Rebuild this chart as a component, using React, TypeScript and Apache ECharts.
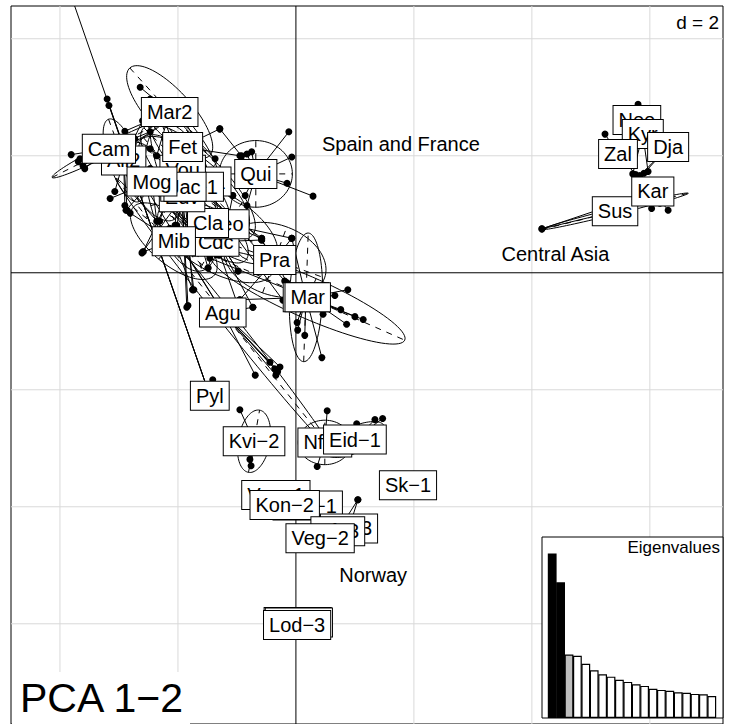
import React, { useEffect, useRef } from 'react';
import * as echarts from 'echarts';

// Population labels in drawing order (later boxes sit on top of earlier ones)
const populations = [
  'Pyl', 'Agu', 'Mor', 'Mar', 'Pra', 'Sk−1', 'Kvi−2', 'Nf−1', 'Eid−1', 'Veg−1', 'Kon−1', 'Kon−2',
  'Sk−3', 'Nf−3', 'Veg−2', 'Lod−1', 'Lod−2', 'Lod−3',
  'Nee', 'Kyr', 'Dja', 'Zal', 'Sus', 'Kar',
  'Cdc', 'Leo', 'Cla', 'Mib', 'Edv', 'Ura−1', 'Ast−1', 'Vou', 'Ali2', 'Jac', 'Mog', 'Cam', 'Fet', 'Mar2', 'Qui',
];

// Class centroids on PC1 / PC2
const centroidX = [
  -1.46, -1.24, 0.17, 0.20, -0.36, 1.90, -0.71, 0.49, 1.00, -0.34, 0.20, -0.19,
  0.90, 0.71, 0.41, 0.03, 0.05, 0.02,
  5.78, 5.88, 6.31, 5.46, 5.41, 6.05,
  -1.36, -1.17, -1.49, -2.07, -1.93, -1.66, -1.76, -1.92, -2.92, -1.88, -2.44, -3.17, -1.92, -2.14, -0.68,
];
const centroidY = [
  -2.10, -0.68, -0.42, -0.42, 0.22, -3.63, -2.88, -2.90, -2.85, -3.80, -3.98, -3.97,
  -4.37, -4.42, -4.54, -5.97, -5.98, -6.02,
  2.61, 2.37, 2.15, 2.03, 1.05, 1.39,
  0.53, 0.83, 0.85, 0.54, 1.29, 1.56, 1.47, 1.76, 1.92, 1.47, 1.56, 2.12, 2.15, 2.75, 1.69,
];

// Individual scores: [population, PC1, PC2]
const individuals: [string, number, number][] = [
  ['Pyl', -3.20, 2.97], ['Pyl', -3.17, 2.86], ['Pyl', -1.41, -1.83], ['Pyl', -6.0, 11.1],
  ['Cam', -3.81, 2.02], ['Cam', -3.66, 1.95], ['Cam', -3.69, 1.90], ['Cam', -3.61, 1.83], ['Cam', -3.58, 1.78],
  ['Cam', -2.73, 2.29], ['Cam', -2.47, 2.41],
  ['Ali2', -3.07, 1.39], ['Ali2', -2.90, 1.15], ['Ali2', -2.86, 1.07], ['Ali2', -2.60, 2.60],
  ['Mar2', -2.90, 2.42], ['Mar2', -2.36, 2.00], ['Mar2', -2.64, 3.17], ['Mar2', -2.47, 2.97], ['Mar2', -1.63, 2.29], ['Mar2', -1.37, 1.95],
  ['Fet', -1.29, 2.46], ['Fet', -2.31, 0.88], ['Fet', -2.05, 0.81], ['Fet', -0.95, 2.00],
  ['Vou', -1.75, -0.29], ['Vou', -2.59, 0.36], ['Vou', -1.63, 2.12], ['Vou', -2.17, 1.61],
  ['Mog', -2.36, 0.88], ['Mog', -2.88, 1.07], ['Mog', -3.15, 1.27], ['Mog', -2.14, 1.95],
  ['Jac', -1.49, 0.08], ['Jac', -2.02, 0.81], ['Jac', -2.22, 2.29], ['Jac', -0.98, 0.03],
  ['Ast−1', -1.34, 0.31], ['Ast−1', -0.58, 0.59], ['Ast−1', -2.47, 2.12],
  ['Ura−1', -0.19, -0.14], ['Ura−1', -1.07, 1.32], ['Ura−1', -1.97, 1.95],
  ['Edv', -1.73, -0.29], ['Edv', -2.61, 0.34], ['Edv', -1.85, -0.59], ['Edv', -1.83, -0.56], ['Edv', -2.47, 1.78],
  ['Qui', -1.29, 2.46], ['Qui', -0.12, 2.41], ['Qui', -0.07, 1.98], ['Qui', 0.29, 1.31], ['Qui', -0.15, 1.53],
  ['Qui', -0.75, 2.07], ['Qui', -0.83, 2.03], ['Qui', -0.92, 2.00], ['Qui', -0.86, 1.32], ['Qui', -0.83, 1.15],
  ['Cla', -0.98, 0.03], ['Cla', -0.73, -0.59], ['Cla', -2.31, 1.44], ['Cla', -1.90, 1.10],
  ['Leo', -0.58, 0.59], ['Leo', -0.07, 0.59], ['Leo', -0.22, -0.47], ['Leo', -1.63, 1.27], ['Leo', -1.07, 1.32],
  ['Mib', -2.59, 0.36], ['Mib', -1.75, -0.29], ['Mib', -2.81, 1.02], ['Mib', -1.30, 0.30],
  ['Cdc', -1.49, 0.08], ['Cdc', -0.58, 0.56], ['Cdc', -1.00, -0.51], ['Cdc', -1.80, 0.76],
  ['Pra', -0.07, 0.59], ['Pra', -0.15, -0.17], ['Pra', -0.95, -0.46], ['Pra', -0.58, 0.56],
  ['Mar', 0.88, -0.29], ['Mar', 0.66, -0.39], ['Mar', 0.76, -0.63], ['Mar', 1.00, -0.75], ['Mar', 1.14, -0.80],
  ['Mar', 0.86, -0.88], ['Mar', 0.46, -0.71], ['Mar', -0.95, -0.46], ['Mar', -1.46, 0.25],
  ['Mor', 0.02, -0.85], ['Mor', 0.03, -0.98], ['Mor', 0.15, -1.07], ['Mor', 0.44, -1.45], ['Mor', -0.07, 0.59],
  ['Agu', -0.44, -1.53], ['Agu', -0.36, -1.64], ['Agu', -0.31, -1.69], ['Agu', -0.27, -1.61], ['Agu', -0.34, -1.75],
  ['Agu', -0.69, -1.75], ['Agu', -0.73, -0.59], ['Agu', -2.64, 1.61], ['Agu', -2.14, 0.76],
  ['Kvi−2', -0.95, -2.34], ['Kvi−2', -0.78, -3.19], ['Kvi−2', -0.76, -3.30],
  ['Nf−1', 0.53, -2.36], ['Nf−1', 0.36, -3.31],
  ['Eid−1', 1.03, -2.58], ['Eid−1', 1.34, -2.51], ['Eid−1', 1.47, -2.49],
  ['Sk−3', 1.05, -3.88], ['Nf−3', 1.05, -3.88],
  ['Nee', 5.80, 2.88],
  ['Kyr', 5.71, 1.69], ['Kyr', 5.97, 1.73],
  ['Dja', 5.83, 1.66], ['Dja', 5.90, 1.70],
  ['Zal', 5.24, 2.37], ['Zal', 5.76, 1.68],
  ['Kar', 6.03, 1.10], ['Kar', 6.31, 1.07], ['Kar', 6.17, 1.19], ['Kar', 4.17, 0.75],
  ['Sus', 4.17, 0.75],
];

// Inertia ellipses: [population, semi-major, semi-minor, angle in degrees]
const ellipseShapes: [string, number, number, number][] = [
  ['Cam', 1.08, 0.10, 27], ['Mar2', 1.01, 0.37, -48], ['Ali2', 0.75, 0.25, -70], ['Fet', 1.0, 0.35, -55],
  ['Vou', 1.2, 0.40, -70], ['Mog', 0.75, 0.35, -60], ['Jac', 1.1, 0.45, -50], ['Ast−1', 1.2, 0.50, -40],
  ['Ura−1', 1.3, 0.45, -45], ['Edv', 1.3, 0.55, -75], ['Qui', 0.62, 0.57, 0], ['Cla', 0.9, 0.35, -45],
  ['Leo', 1.0, 0.45, -35], ['Mib', 0.9, 0.40, -40], ['Cdc', 1.1, 0.50, -30], ['Pra', 0.9, 0.60, -20],
  ['Mar', 1.8, 0.35, -24], ['Mor', 1.1, 0.28, 88], ['Agu', 2.92, 0.12, -51.7], ['Kvi−2', 0.54, 0.27, 80],
  ['Nf−1', 0.45, 0.38, 0], ['Eid−1', 0.55, 0.22, 25], ['Sus', 1.28, 0.05, 14], ['Kar', 0.22, 0.08, -50],
];

const eigenvalues = [4.10, 3.38, 1.58, 1.55, 1.35, 1.19, 1.09, 1.03, 0.95, 0.90, 0.84, 0.80, 0.73, 0.70, 0.68, 0.64, 0.63, 0.60, 0.59, 0.55];

const gridX = [-4, -2, 2, 4, 6];
const gridY = [4, 2, -2, -4, -6];

const regionNames = ['Spain and France', 'Central Asia', 'Norway'];
const regionX = [1.78, 4.40, 1.31];
const regionY = [2.20, 0.32, -5.17];

const X_MIN = -4.83;
const X_MAX = 7.24;
const Y_MAX = 4.56;
const Y_MIN = -7.713;

const FONT = '"Liberation Sans", Arial, Helvetica, sans-serif';

export default function App() {
  const ref = useRef<HTMLDivElement>(null);

  useEffect(() => {
    const chart = echarts.init(ref.current!, null, { renderer: 'svg' });
    const idx = (p: string) => populations.indexOf(p);

    const starData = individuals.map(([p, x, y]) => {
      const i = idx(p);
      return [centroidX[i], centroidY[i], x, y];
    });
    const ellipseData = ellipseShapes.map(([p, a, b, ang]) => {
      const i = idx(p);
      return [centroidX[i], centroidY[i], a, b, ang];
    });
    const labelData = populations.map((_, i) => [centroidX[i], centroidY[i], i]);
    const regionData = regionNames.map((_, i) => [regionX[i], regionY[i], i]);

    const lineEl = (a: number[], b: number[], style: any) => ({
      type: 'line',
      shape: { x1: a[0], y1: a[1], x2: b[0], y2: b[1] },
      style,
    });

    chart.setOption({
      animation: false,
      grid: [
        { left: 11, top: 6, width: 712, height: 724, show: true, borderColor: '#000', borderWidth: 1, backgroundColor: 'transparent' },
        { left: 548, top: 537, width: 168, height: 181 },
      ],
      xAxis: [
        { type: 'value', gridIndex: 0, min: X_MIN, max: X_MAX, show: false },
        { type: 'category', gridIndex: 1, data: eigenvalues.map((_, i) => String(i + 1)), show: false },
      ],
      yAxis: [
        { type: 'value', gridIndex: 0, min: Y_MIN, max: Y_MAX, show: false },
        { type: 'value', gridIndex: 1, min: 0, max: 4.51, show: false },
      ],
      graphic: [
        { type: 'rect', z: 50, shape: { x: 542, y: 537, width: 181, height: 181 }, style: { fill: '#fff', stroke: '#000', lineWidth: 1 } },
        { type: 'text', z: 60, x: 720, y: 547, style: { text: 'Eigenvalues', font: `17px ${FONT}`, fill: '#000', align: 'right', verticalAlign: 'middle' } },
        { type: 'rect', z: 50, shape: { x: 12, y: 672, width: 178, height: 60 }, style: { fill: '#fff', lineWidth: 0 } },
        { type: 'text', z: 60, x: 20, y: 698, style: { text: 'PCA 1−2', font: `41px ${FONT}`, fill: '#000', align: 'left', verticalAlign: 'middle' } },
        { type: 'rect', z: 50, shape: { x: 668, y: 7, width: 54, height: 24 }, style: { fill: '#fff', lineWidth: 0 } },
        { type: 'text', z: 60, x: 719, y: 22, style: { text: 'd = 2', font: `19px ${FONT}`, fill: '#000', align: 'right', verticalAlign: 'middle' } },
      ],
      series: [
        // light grid
        {
          type: 'custom', xAxisIndex: 0, yAxisIndex: 0, z: 1, silent: true,
          data: gridX.map((v) => [v, 0]),
          renderItem: (_p: any, api: any) =>
            lineEl(api.coord([api.value(0), Y_MIN]), api.coord([api.value(0), Y_MAX]), { stroke: '#d9d9d9', lineWidth: 1 }),
        },
        {
          type: 'custom', xAxisIndex: 0, yAxisIndex: 0, z: 1, silent: true,
          data: gridY.map((v) => [0, v]),
          renderItem: (_p: any, api: any) =>
            lineEl(api.coord([X_MIN, api.value(1)]), api.coord([X_MAX, api.value(1)]), { stroke: '#d9d9d9', lineWidth: 1 }),
        },
        // axes through the origin
        {
          type: 'custom', xAxisIndex: 0, yAxisIndex: 0, z: 2, silent: true,
          data: [[0, 0]],
          renderItem: (_p: any, api: any) => ({
            type: 'group',
            children: [
              lineEl(api.coord([0, Y_MIN]), api.coord([0, Y_MAX]), { stroke: '#000', lineWidth: 1 }),
              lineEl(api.coord([X_MIN, 0]), api.coord([X_MAX, 0]), { stroke: '#000', lineWidth: 1 }),
            ],
          }),
        },
        // ellipses with dashed axes
        {
          type: 'custom', xAxisIndex: 0, yAxisIndex: 0, z: 3, silent: true, clip: true,
          data: ellipseData,
          renderItem: (_p: any, api: any) => {
            const cx = api.value(0), cy = api.value(1), a = api.value(2), b = api.value(3);
            const t0 = (api.value(4) * Math.PI) / 180;
            const c = Math.cos(t0), s = Math.sin(t0);
            const pts: number[][] = [];
            for (let k = 0; k <= 90; k++) {
              const t = (k / 90) * Math.PI * 2;
              const u = a * Math.cos(t), v = b * Math.sin(t);
              pts.push(api.coord([cx + u * c - v * s, cy + u * s + v * c]));
            }
            const dash = { stroke: '#000', lineWidth: 1, lineDash: [6, 6] };
            return {
              type: 'group',
              children: [
                { type: 'polyline', shape: { points: pts }, style: { stroke: '#000', fill: 'none', lineWidth: 1 } },
                lineEl(api.coord([cx - a * c, cy - a * s]), api.coord([cx + a * c, cy + a * s]), dash),
                lineEl(api.coord([cx + b * s, cy - b * c]), api.coord([cx - b * s, cy + b * c]), dash),
              ],
            };
          },
        },
        // stars: centroid to each individual
        {
          type: 'custom', xAxisIndex: 0, yAxisIndex: 0, z: 4, silent: true, clip: true,
          data: starData,
          renderItem: (_p: any, api: any) =>
            lineEl(api.coord([api.value(0), api.value(1)]), api.coord([api.value(2), api.value(3)]), { stroke: '#000', lineWidth: 1 }),
        },
        // individuals
        {
          type: 'scatter', xAxisIndex: 0, yAxisIndex: 0, z: 5, silent: true,
          symbol: 'circle', symbolSize: 7,
          itemStyle: { color: '#000', opacity: 1 },
          data: individuals.map(([, x, y]) => [x, y]),
        },
        // population labels
        {
          type: 'custom', xAxisIndex: 0, yAxisIndex: 0, z: 8, silent: true,
          data: labelData,
          renderItem: (_p: any, api: any) => {
            const p = api.coord([api.value(0), api.value(1)]);
            return {
              type: 'text', x: p[0], y: p[1],
              style: {
                text: populations[api.value(2)],
                font: `20px ${FONT}`, fill: '#000',
                align: 'center', verticalAlign: 'middle', lineHeight: 22,
                backgroundColor: '#fff', borderColor: '#000', borderWidth: 1, padding: [3, 5, 3, 5],
              },
            };
          },
        },
        // region names
        {
          type: 'custom', xAxisIndex: 0, yAxisIndex: 0, z: 9, silent: true,
          data: regionData,
          renderItem: (_p: any, api: any) => {
            const p = api.coord([api.value(0), api.value(1)]);
            return {
              type: 'text', x: p[0], y: p[1],
              style: { text: regionNames[api.value(2)], font: `20px ${FONT}`, fill: '#000', align: 'center', verticalAlign: 'middle' },
            };
          },
        },
        // eigenvalue bars
        {
          type: 'bar', xAxisIndex: 1, yAxisIndex: 1, z: 55, silent: true,
          barWidth: 8.8, barCategoryGap: '0%',
          data: eigenvalues.map((v, i) => ({
            value: v,
            itemStyle: { color: i < 2 ? '#000' : i === 2 ? '#bebebe' : '#fff', borderColor: '#000', borderWidth: 1.2 },
          })),
        },
      ],
    });
    return () => chart.dispose();
  }, []);

  return <div ref={ref} style={{ position: 'fixed', left: 0, top: 0, width: 731, height: 724, background: '#fff' }} />;
}
